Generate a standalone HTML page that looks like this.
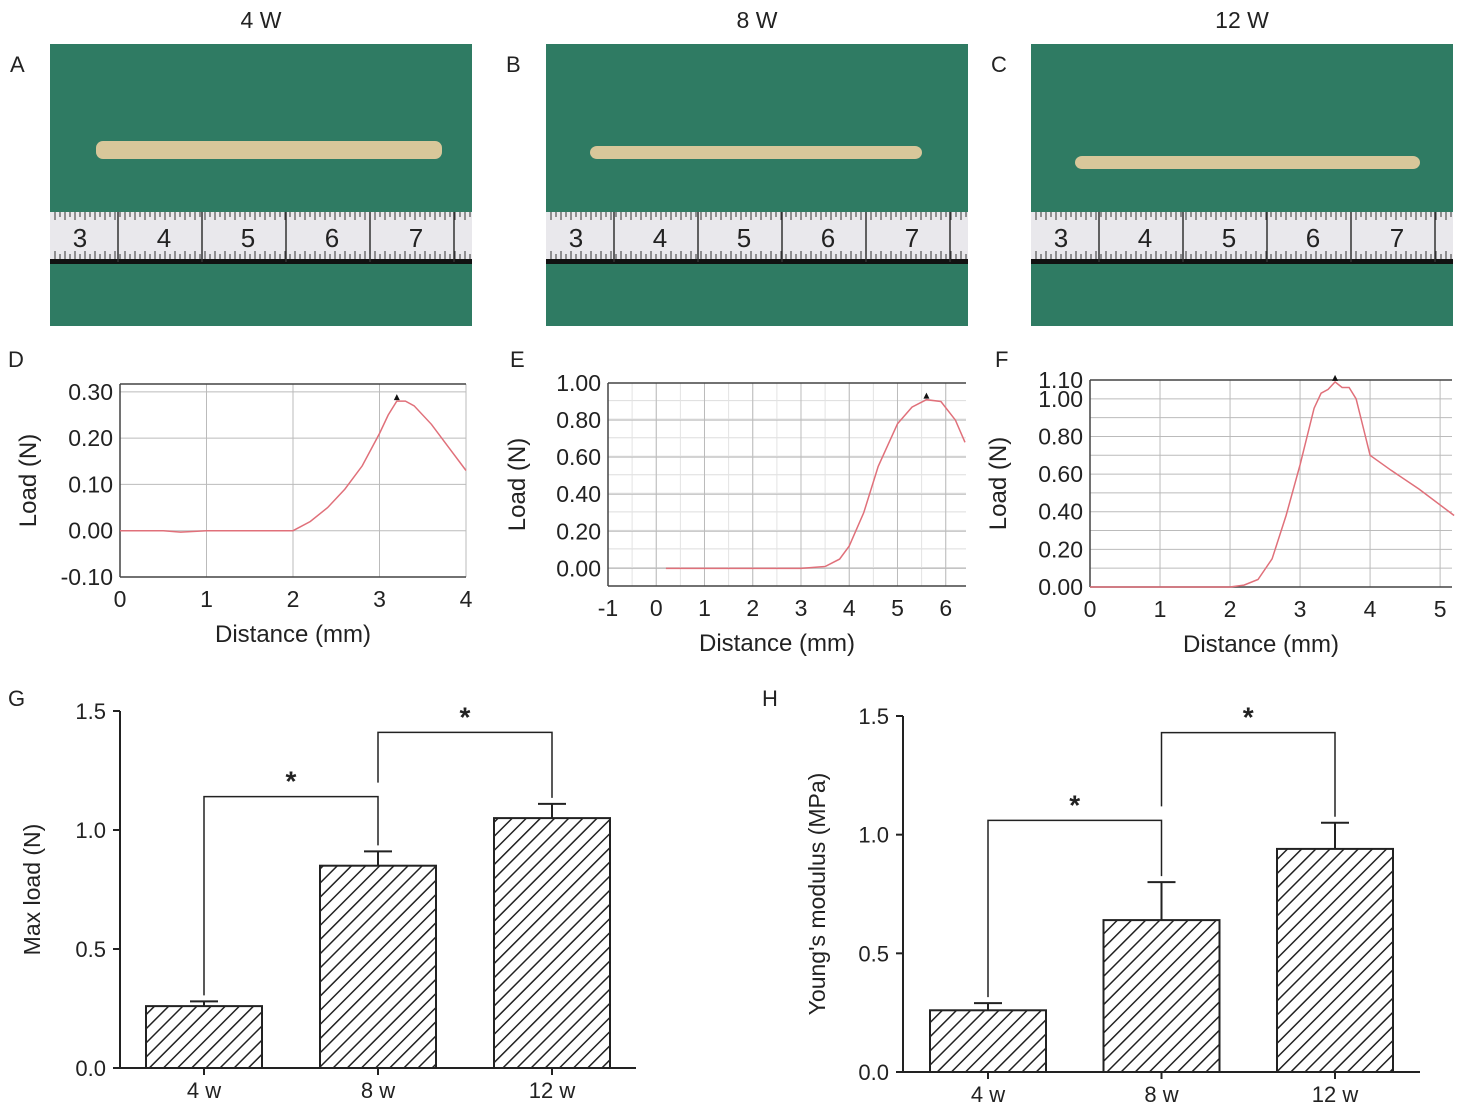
<!DOCTYPE html>
<html><head><meta charset="utf-8"><style>
body{margin:0;background:#fff}
svg{display:block;font-family:"Liberation Sans",Arial,sans-serif}
</style></head><body>
<svg id="fig" width="1463" height="1114" viewBox="0 0 1463 1114" xmlns="http://www.w3.org/2000/svg">
<defs>
<pattern id="hatch" patternUnits="userSpaceOnUse" width="10" height="10" patternTransform="rotate(45)">
<rect width="10" height="10" fill="#fff"/><line x1="0" y1="0" x2="0" y2="10" stroke="#222" stroke-width="3"/>
</pattern>
</defs>
<g id="photos"></g>
<g id="lines"></g>
<g id="bars"></g>
</svg>
<script>
const NS="http://www.w3.org/2000/svg";
function mk(parent,tag,attrs,text){const e=document.createElementNS(NS,tag);for(const k in attrs)e.setAttribute(k,attrs[k]);if(text!==undefined)e.textContent=text;parent.appendChild(e);return e;}

// ---------- data ----------
const photoTitles=["4 W","8 W","12 W"];
const photoLetters=["A","B","C"];
const rulerNums=["3","4","5","6","7"];

const dX=[0,0.5,0.7,1,1.5,2,2.2,2.4,2.6,2.8,3.0,3.1,3.2,3.3,3.4,3.6,3.8,4.0];
const dY=[0,0,-0.003,0,0,0,0.02,0.05,0.09,0.14,0.21,0.25,0.28,0.28,0.27,0.23,0.18,0.13];
const eX=[0.2,0.5,1,2,3,3.5,3.8,4.0,4.3,4.6,5.0,5.3,5.6,5.9,6.2,6.4];
const eY=[0,0,0,0,0,0.01,0.05,0.12,0.3,0.55,0.78,0.87,0.91,0.9,0.8,0.68];
const fX=[0,1,2,2.2,2.4,2.6,2.8,3.0,3.2,3.3,3.4,3.5,3.6,3.7,3.8,3.9,4.0,4.3,4.7,5.2];
const fY=[0,0,0,0.01,0.04,0.15,0.38,0.65,0.95,1.03,1.05,1.09,1.06,1.06,1.0,0.85,0.7,0.62,0.52,0.38];

const barCats=["4 w","8 w","12 w"];
const maxLoad=[0.26,0.85,1.05];
const maxLoadErr=[0.02,0.06,0.06];
const youngs=[0.26,0.64,0.94];
const youngsErr=[0.03,0.16,0.11];
const barTicks=["0.0","0.5","1.0","1.5"];

// ---------- photos ----------
const ph=document.getElementById('photos');
const photoX=[50,546,1031];
photoX.forEach((x,i)=>{
  const g=mk(ph,'g',{});
  
  
  mk(g,'rect',{x:x,y:44,width:422,height:282,fill:'#2f7b63'});
  const rodY=[150,155,165][i], rx0=[96,590,1075][i], rx1=[442,922,1420][i];
  mk(g,'rect',{x:rx0,y:rodY-9,width:rx1-rx0,height:[18,13,13][i],rx:7,fill:'#d8c79a'});
  mk(g,'rect',{x:x,y:212,width:422,height:48,fill:'#e9e8ec'});
  mk(g,'rect',{x:x,y:259,width:422,height:5,fill:'#111'});
  for(let t=0;t<84;t++){const tx=x+5+t*5;mk(g,'line',{x1:tx,y1:212,x2:tx,y2:t%2?217:220,stroke:'#333','stroke-width':1});mk(g,'line',{x1:tx,y1:259,x2:tx,y2:t%2?254:251,stroke:'#333','stroke-width':1});}
  rulerNums.forEach((n,j)=>{const nx=x+30+j*84;mk(g,'text',{x:nx,y:247,'font-size':26,fill:'#222','text-anchor':'middle'},n);mk(g,'line',{x1:nx+38,y1:212,x2:nx+38,y2:262,stroke:'#333','stroke-width':1.5});});
  const tt=mk(ph,'text',{x:x+211,y:28,'font-size':23,'text-anchor':'middle',fill:'#222'},photoTitles[i]);
  
  const lt=mk(ph,'text',{x:x-40,y:72,'font-size':22,fill:'#222'},photoLetters[i]);
  
});

// ---------- line charts ----------
const lg=document.getElementById('lines');
function lineChart(cfg){
  const g=mk(lg,'g',{});
  
  
  const sx=v=>cfg.x0+(v-cfg.xmin)/(cfg.xmax-cfg.xmin)*(cfg.x1-cfg.x0);
  const sy=v=>cfg.y1-(v-cfg.ymin)/(cfg.ymax-cfg.ymin)*(cfg.y1-cfg.y0);
  if(cfg.minor){for(let v=cfg.ymin;v<=cfg.ymax+1e-9;v+=cfg.minor){mk(g,'line',{x1:cfg.x0,x2:cfg.x1,y1:sy(v),y2:sy(v),stroke:'#ddd','stroke-width':1});}
    for(let v=cfg.xmin;v<=cfg.xmax;v+=0.5){mk(g,'line',{x1:sx(v),x2:sx(v),y1:cfg.y0,y2:cfg.y1,stroke:'#e3e3e3','stroke-width':1});}}
  const labs=cfg.yl||cfg.yt;
  cfg.yt.forEach(v=>{mk(g,'line',{x1:cfg.x0,x2:cfg.x1,y1:sy(v),y2:sy(v),stroke:'#bbb','stroke-width':1});});
  labs.forEach(v=>{mk(g,'text',{x:cfg.x0-7,y:sy(v)+8,'font-size':23,'text-anchor':'end',fill:'#222'},v.toFixed(2));});
  cfg.xt.forEach(v=>{mk(g,'line',{x1:sx(v),x2:sx(v),y1:cfg.y0,y2:cfg.y1,stroke:'#bbb','stroke-width':1});
    mk(g,'text',{x:sx(v),y:cfg.y1+30,'font-size':23,'text-anchor':'middle',fill:'#222'},String(v));});
  mk(g,'line',{x1:cfg.x0,x2:cfg.x1,y1:cfg.y0,y2:cfg.y0,stroke:'#444','stroke-width':1.5});
  mk(g,'line',{x1:cfg.x0,x2:cfg.x0,y1:cfg.y0,y2:cfg.y1,stroke:'#444','stroke-width':1.5});
  mk(g,'line',{x1:cfg.x0,x2:cfg.x1,y1:cfg.y1,y2:cfg.y1,stroke:'#444','stroke-width':1.5});
  const d=cfg.xs.map((v,i)=>(i?'L':'M')+sx(v).toFixed(1)+','+sy(cfg.ys[i]).toFixed(1)).join(' ');
  const p=mk(g,'path',{d:d,fill:'none',stroke:'#e0707a','stroke-width':1.5});
  
  let mi=0;cfg.ys.forEach((v,i)=>{if(v>cfg.ys[mi])mi=i;});
  const px=sx(cfg.xs[mi]),py=sy(cfg.ys[mi])-3;
  mk(g,'path',{d:`M${px-3},${py+2} L${px+3},${py+2} L${px},${py-4} Z`,fill:'#111'});
  mk(g,'text',{x:cfg.ylx,y:(cfg.y0+cfg.y1)/2,'font-size':24,'text-anchor':'middle',fill:'#222',transform:`rotate(-90 ${cfg.ylx} ${(cfg.y0+cfg.y1)/2})`},'Load (N)');
  mk(g,'text',{x:(cfg.x0+cfg.x1)/2+(cfg.xlo||0),y:cfg.y1+65,'font-size':24,'text-anchor':'middle',fill:'#222'},'Distance (mm)');
  mk(g,'text',{x:cfg.lx,y:cfg.ly,'font-size':22,fill:'#222'},cfg.letter);
}
lineChart({letter:'D',lx:8,ly:367,x0:120,x1:466,y0:384,y1:577,xmin:0,xmax:4,ymin:-0.1,ymax:0.317,xt:[0,1,2,3,4],yt:[-0.1,0,0.1,0.2,0.3],xs:dX,ys:dY,ylx:36});
lineChart({letter:'E',lx:510,ly:367,x0:608,x1:966,y0:383,y1:586,xmin:-1,xmax:6.42,ymin:-0.095,ymax:1.0,xt:[-1,0,1,2,3,4,5,6],yt:[0,0.2,0.4,0.6,0.8,1.0],minor:0.1,xs:eX,ys:eY,ylx:525,xlo:-10});
lineChart({letter:'F',lx:995,ly:367,x0:1090,x1:1452,y0:380,y1:587,xmin:0,xmax:5.17,ymin:0,ymax:1.1,xt:[0,1,2,3,4,5],yt:[0,0.1,0.2,0.3,0.4,0.5,0.6,0.7,0.8,0.9,1.0,1.1],yl:[0,0.2,0.4,0.6,0.8,1.0,1.1],xs:fX,ys:fY,ylx:1006,xlo:-10});

// ---------- bar charts ----------
const bg=document.getElementById('bars');
function barChart(cfg){
  const g=mk(bg,'g',{});
  
  
  const sy=v=>cfg.yb-v/1.5*(cfg.yb-cfg.yt);
  const cx=i=>cfg.bx0+58+i*cfg.step;
  mk(g,'text',{x:cfg.lx,y:706,'font-size':22,fill:'#222'},cfg.letter);
  cfg.vals.forEach((v,i)=>{
    const top=sy(v+cfg.errs[i]);
    mk(g,'line',{x1:cx(i),x2:cx(i),y1:sy(v),y2:top,stroke:'#222','stroke-width':2});
    mk(g,'line',{x1:cx(i)-14,x2:cx(i)+14,y1:top,y2:top,stroke:'#222','stroke-width':2});
    const r=mk(g,'rect',{x:cx(i)-58,y:sy(v),width:116,height:cfg.yb-sy(v),fill:'url(#hatch)',stroke:'#222','stroke-width':2});
    
    
    mk(g,'text',{x:cx(i),y:cfg.yb+30,'font-size':22,'text-anchor':'middle',fill:'#222'},barCats[i]);
    mk(g,'line',{x1:cx(i),x2:cx(i),y1:cfg.yb,y2:cfg.yb+7,stroke:'#222','stroke-width':2});
  });
  barTicks.forEach(t=>{const y=sy(parseFloat(t));
    mk(g,'line',{x1:cfg.ax-7,x2:cfg.ax,y1:y,y2:y,stroke:'#222','stroke-width':2});
    mk(g,'text',{x:cfg.ax-14,y:y+8,'font-size':22,'text-anchor':'end',fill:'#222'},t);});
  mk(g,'line',{x1:cfg.ax,x2:cfg.ax,y1:cfg.yt,y2:cfg.yb,stroke:'#222','stroke-width':2});
  mk(g,'line',{x1:cfg.ax,x2:cfg.axEnd,y1:cfg.yb,y2:cfg.yb,stroke:'#222','stroke-width':2});
  [[0,1,cfg.br1],[1,2,cfg.br2]].forEach(([a,b,lv])=>{
    const y=sy(lv);
    const ya=sy(cfg.vals[a]+cfg.errs[a])-6, yb2=sy(cfg.vals[b]+cfg.errs[b])-6;
    const bb=b===1?sy(cfg.vals[1]+cfg.errs[1])-6:yb2;
    mk(g,'path',{d:`M${cx(a)},${a===1?sy(cfg.br1)-14:ya} L${cx(a)},${y} L${cx(b)},${y} L${cx(b)},${bb}`,fill:'none',stroke:'#222','stroke-width':1.5});
    mk(g,'text',{x:(cx(a)+cx(b))/2,y:y-6,'font-size':28,'font-weight':'bold','text-anchor':'middle',fill:'#222'},'*');
  });
  const my=(cfg.yt+cfg.yb)/2;
  mk(g,'text',{x:cfg.ylx,y:my,'font-size':23,'text-anchor':'middle',fill:'#222',transform:`rotate(-90 ${cfg.ylx} ${my})`},cfg.ylabel);
}
barChart({letter:'G',lx:8,ax:120,axEnd:636,yt:711,yb:1068,bx0:146,step:174,vals:maxLoad,errs:maxLoadErr,br1:1.14,br2:1.41,ylabel:'Max load (N)',ylx:40});
barChart({letter:'H',lx:762,ax:903,axEnd:1420,yt:716,yb:1072,bx0:930,step:173.5,vals:youngs,errs:youngsErr,br1:1.06,br2:1.43,ylabel:"Young's modulus (MPa)",ylx:825});
</script>
</body></html>
